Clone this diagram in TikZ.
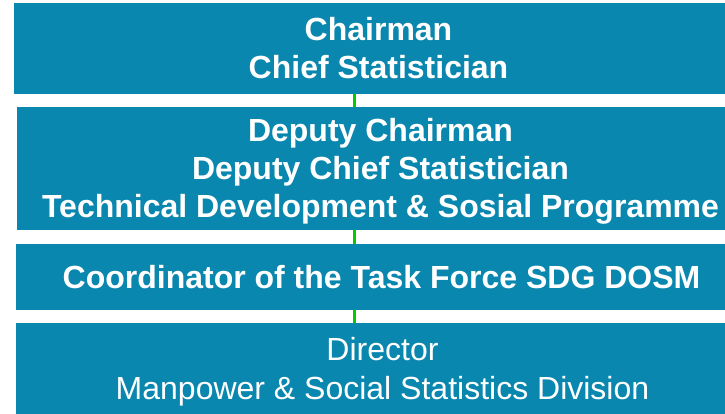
\documentclass[tikz,border=0pt]{standalone}
\usepackage{fontspec}
\setmainfont{Liberation Sans}
\definecolor{boxblue}{RGB}{9,135,174}
\definecolor{linkgreen}{RGB}{0,204,0}
\begin{document}
\begin{tikzpicture}[x=1pt,y=-1pt,
  box/.style={fill=boxblue, draw=none, inner sep=0pt, outer sep=0pt, anchor=north west},
  boldline/.style={anchor=base, inner sep=0pt, text=white, font=\fontsize{32}{38}\selectfont\bfseries},
  plainline/.style={anchor=base, inner sep=0pt, text=white, font=\fontsize{32}{38}\selectfont},
  link/.style={draw=linkgreen, line width=2.2pt}]
\useasboundingbox (0,0) rectangle (725,414);
\node[box, minimum width=711pt, minimum height=91pt] (b1) at (14,3) {};
\node[box, minimum width=708pt, minimum height=123pt] (b2) at (17,107) {};
\node[box, minimum width=709pt, minimum height=66pt] (b3) at (16,244) {};
\node[box, minimum width=709pt, minimum height=92pt] (b4) at (16,323) {};
\coordinate (cx) at (354.5,0);
\draw[link] (b1.south -| cx) -- (b2.north -| cx);
\draw[link] (b2.south -| cx) -- (b3.north -| cx);
\draw[link] (b3.south -| cx) -- (b4.north -| cx);
\node[boldline] (t1a) at (378.5,40.7) {Chairman};
\node[boldline] (t1b) at (378.5,79) {Chief Statistician};
\node[boldline] (t2a) at (380.5,141.7) {Deputy Chairman};
\node[boldline] (t2b) at (380.5,179) {Deputy Chief Statistician};
\node[boldline] (t2c) at (380.5,217) {Technical Development \& Sosial Programme};
\node[boldline] (t3) at (381.5,288) {Coordinator of the Task Force SDG DOSM};
\node[plainline] (t4a) at (382.5,360.7) {Director};
\node[plainline] (t4b) at (382.5,399) {Manpower \& Social Statistics Division};
\end{tikzpicture}
\end{document}
